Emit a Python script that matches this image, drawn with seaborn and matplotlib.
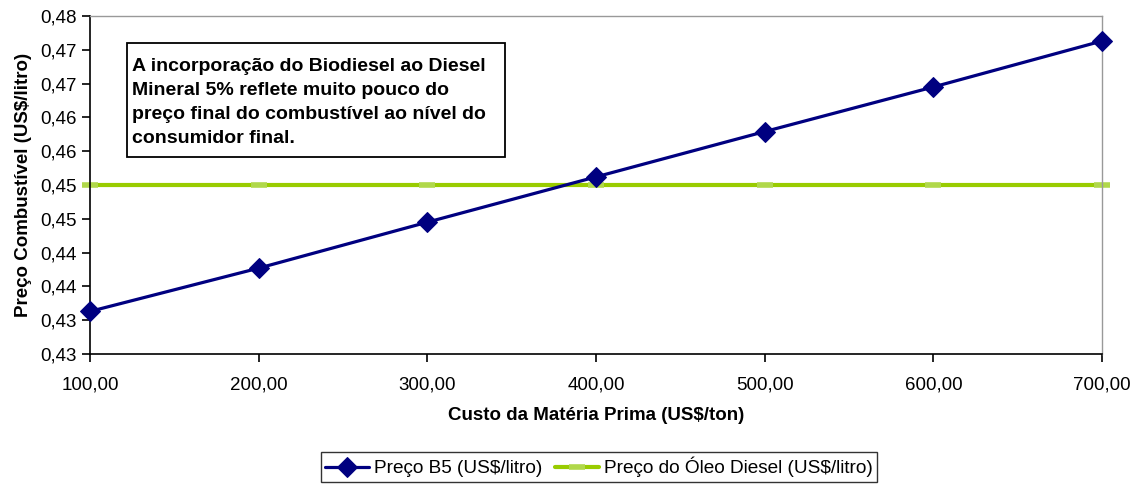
import matplotlib
matplotlib.use("Agg")
import matplotlib.pyplot as plt
import seaborn as sns
import pandas as pd
from matplotlib.patches import Rectangle

custo = [100, 200, 300, 400, 500, 600, 700]
preco_b5 = [0.4313, 0.4377, 0.4445, 0.4512, 0.4579, 0.4645, 0.4713]
preco_diesel = [0.4500, 0.4500, 0.4500, 0.4500, 0.4500, 0.4500, 0.4500]
y_ticks = [0.425, 0.430, 0.435, 0.440, 0.445, 0.450, 0.455, 0.460, 0.465, 0.470, 0.475]
y_tick_labels = ["0,43", "0,43", "0,44", "0,44", "0,45", "0,45", "0,46", "0,46", "0,47", "0,47", "0,48"]
x_tick_labels = ["100,00", "200,00", "300,00", "400,00", "500,00", "600,00", "700,00"]
label_b5 = "Preço B5 (US$/litro)"
label_diesel = "Preço do Óleo Diesel (US$/litro)"
x_title = "Custo da Matéria Prima (US$/ton)"
y_title = "Preço Combustível (US$/litro)"
note = ("A incorporação do Biodiesel ao Diesel\n"
        "Mineral 5% reflete muito pouco do\n"
        "preço final do combustível ao nível do\n"
        "consumidor final.")

sns.set_style("white")
plt.rcParams["font.family"] = ["Liberation Sans", "DejaVu Sans"]
plt.rcParams["text.color"] = "black"
plt.rcParams["axes.labelcolor"] = "black"

W, H = 1140, 486
df = pd.DataFrame({"custo": custo, "b5": preco_b5, "diesel": preco_diesel})

fig = plt.figure(figsize=(11.4, 4.86), dpi=100)
ax = fig.add_axes([90 / W, 1 - 354 / H, (1102 - 90) / W, (354 - 16) / H])

sns.lineplot(data=df, x="custo", y="diesel", ax=ax, color="#99CC00", lw=3.0,
             marker="_", markersize=12, markeredgewidth=4, markeredgecolor="#b0d84a",
             label=label_diesel, clip_on=False, zorder=2)
sns.lineplot(data=df, x="custo", y="b5", ax=ax, color="#000080", lw=2.3,
             marker="D", markersize=10, markeredgecolor="#000080",
             label=label_b5, clip_on=False, zorder=3)

ax.set_xlim(100, 700)
ax.set_ylim(0.425, 0.475)
ax.set_yticks(y_ticks)
ax.set_yticklabels(y_tick_labels)
ax.set_xticks(custo)
ax.set_xticklabels(x_tick_labels)
ax.tick_params(axis="both", labelsize=13.5, colors="black", direction="out",
               length=6, width=1.2, left=True, bottom=True)
ax.tick_params(axis="x", pad=10)
ax.set_xlabel(x_title, fontsize=13.5, fontweight="bold", labelpad=10, color="black")
ax.set_ylabel(y_title, fontsize=13.5, fontweight="bold", labelpad=6, color="black")

for s in ["left", "bottom"]:
    ax.spines[s].set_color("black")
    ax.spines[s].set_linewidth(1.2)
for s in ["top", "right"]:
    ax.spines[s].set_visible(True)
    ax.spines[s].set_color("#999999")
    ax.spines[s].set_linewidth(1.0)

# annotation box
fig.patches.append(Rectangle((127 / W, 1 - 157 / H), (505 - 127) / W, (157 - 43) / H,
                             transform=fig.transFigure, fc="white", ec="black",
                             lw=1.3, zorder=5))
fig.text(132 / W, 1 - 58 / H, note, fontsize=14, fontweight="bold", color="black",
         va="top", ha="left", linespacing=1.55, zorder=6)

handles, labels = ax.get_legend_handles_labels()
order = [labels.index(label_b5), labels.index(label_diesel)]
leg = fig.legend([handles[i] for i in order], [labels[i] for i in order],
                 loc="center", bbox_to_anchor=(599 / W, 1 - 467 / H), ncol=2,
                 fontsize=13.7, frameon=True, fancybox=False, edgecolor="black",
                 handlelength=2.3, columnspacing=0.7, handletextpad=0.25,
                 borderpad=0.25, borderaxespad=0)
leg.get_frame().set_linewidth(1.0)
ax.get_legend().remove()

fig.savefig("out.png", dpi=100)
